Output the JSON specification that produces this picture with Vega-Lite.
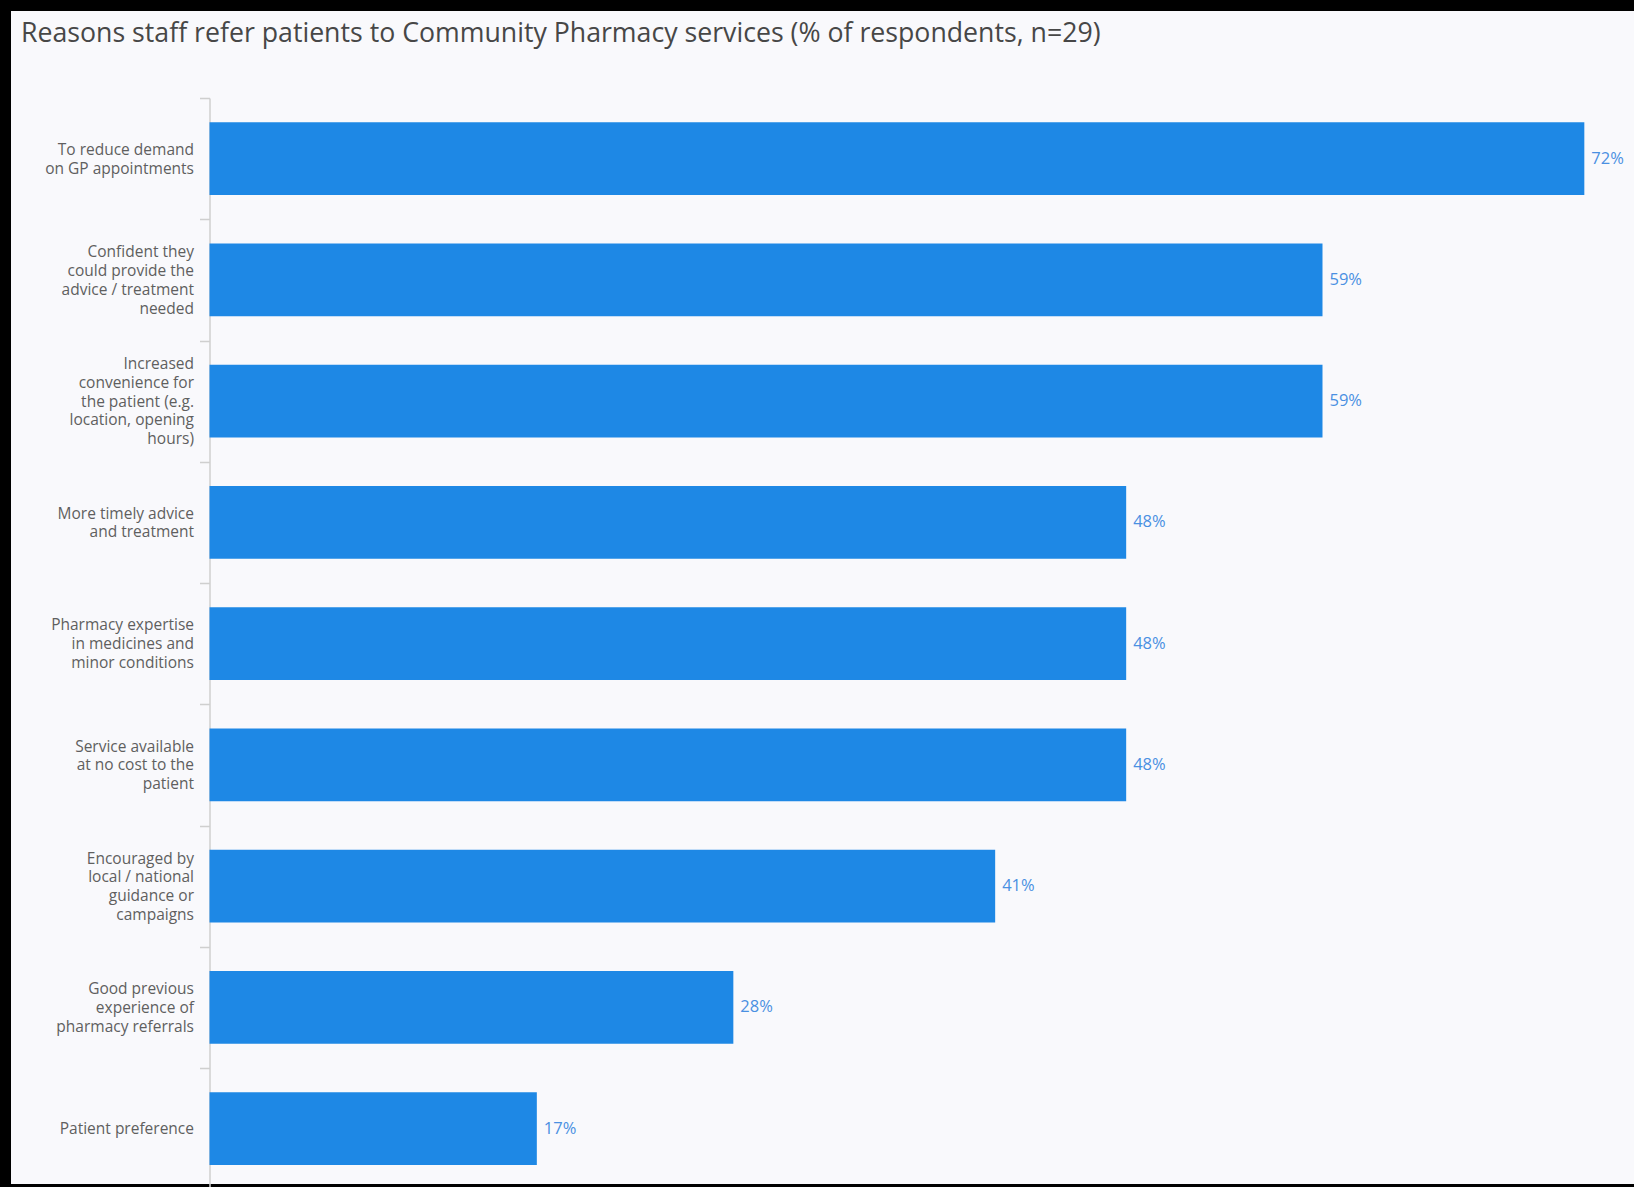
{
  "$schema": "https://vega.github.io/schema/vega-lite/v6.json",
  "width": 1623,
  "height": 1173,
  "autosize": {"type": "none"},
  "padding": {"left": 11, "top": 11, "right": 0, "bottom": 3},
  "background": "#000000",
  "title": {
    "text": "Reasons staff refer patients to Community Pharmacy services (% of respondents, n=29)",
    "anchor": "start",
    "frame": "group",
    "offset": -30,
    "dx": 10,
    "dy": 28,
    "baseline": "alphabetic",
    "font": "Open Sans",
    "fontSize": 26.7,
    "fontWeight": "normal",
    "color": "#474747"
  },
  "data": {
    "values": [
      {"reason": "To reduce demand on GP appointments", "share": 0.7241},
      {"reason": "Confident they could provide the advice / treatment needed", "share": 0.5862},
      {"reason": "Increased convenience for the patient (e.g. location, opening hours)", "share": 0.5862},
      {"reason": "More timely advice and treatment", "share": 0.4828},
      {"reason": "Pharmacy expertise in medicines and minor conditions", "share": 0.4828},
      {"reason": "Service available at no cost to the patient", "share": 0.4828},
      {"reason": "Encouraged by local / national guidance or campaigns", "share": 0.4138},
      {"reason": "Good previous experience of pharmacy referrals", "share": 0.2759},
      {"reason": "Patient preference", "share": 0.1724}
    ]
  },
  "encoding": {
    "y": {
      "field": "reason",
      "type": "nominal",
      "sort": null,
      "scale": {"range": [87, 1178.25], "paddingInner": 0.4, "paddingOuter": 0.2},
      "axis": {
        "title": null,
        "orient": "left",
        "offset": -198.5,
        "domainColor": "#cfcfcf",
        "domainWidth": 1.5,
        "tickColor": "#cfcfcf",
        "tickWidth": 1.5,
        "tickSize": 10,
        "tickOffset": -60.625,
        "labelOffset": {
          "condition": [
            {"test": "indexof(['To reduce demand on GP appointments', 'More timely advice and treatment'], datum.value) >= 0", "value": 51.25},
            {"test": "indexof(['Pharmacy expertise in medicines and minor conditions', 'Service available at no cost to the patient', 'Good previous experience of pharmacy referrals'], datum.value) >= 0", "value": 41.875},
            {"test": "indexof(['Confident they could provide the advice / treatment needed', 'Encouraged by local / national guidance or campaigns'], datum.value) >= 0", "value": 32.5},
            {"test": "indexof(['Increased convenience for the patient (e.g. location, opening hours)'], datum.value) >= 0", "value": 23.125}
          ],
          "value": 60.625
        },
        "labelPadding": 6,
        "labelFont": "Open Sans",
        "labelFontSize": 15.5,
        "labelColor": "#5f5f5f",
        "labelLineHeight": 18.75,
        "labelLimit": 300,
        "labelExpr": "({'To reduce demand on GP appointments': ['To reduce demand', 'on GP appointments'], 'Confident they could provide the advice / treatment needed': ['Confident they', 'could provide the', 'advice / treatment', 'needed'], 'Increased convenience for the patient (e.g. location, opening hours)': ['Increased', 'convenience for', 'the patient (e.g.', 'location, opening', 'hours)'], 'More timely advice and treatment': ['More timely advice', 'and treatment'], 'Pharmacy expertise in medicines and minor conditions': ['Pharmacy expertise', 'in medicines and', 'minor conditions'], 'Service available at no cost to the patient': ['Service available', 'at no cost to the', 'patient'], 'Encouraged by local / national guidance or campaigns': ['Encouraged by', 'local / national', 'guidance or', 'campaigns'], 'Good previous experience of pharmacy referrals': ['Good previous', 'experience of', 'pharmacy referrals'], 'Patient preference': ['Patient preference']})[datum.label]"
      }
    },
    "x": {
      "field": "share",
      "type": "quantitative",
      "scale": {"domain": [0, 0.75], "range": [198.5, 1622.5]},
      "axis": null
    }
  },
  "layer": [
    {"mark": {"type": "bar", "color": "#1e88e5"}},
    {
      "mark": {"type": "text", "align": "left", "dx": 7, "baseline": "middle", "font": "Open Sans", "fontSize": 16.5, "color": "#4a90e2"},
      "encoding": {"text": {"field": "share", "type": "quantitative", "format": ".0%"}}
    }
  ],
  "config": {"view": {"fill": "#f9f9fc", "stroke": null}}
}
